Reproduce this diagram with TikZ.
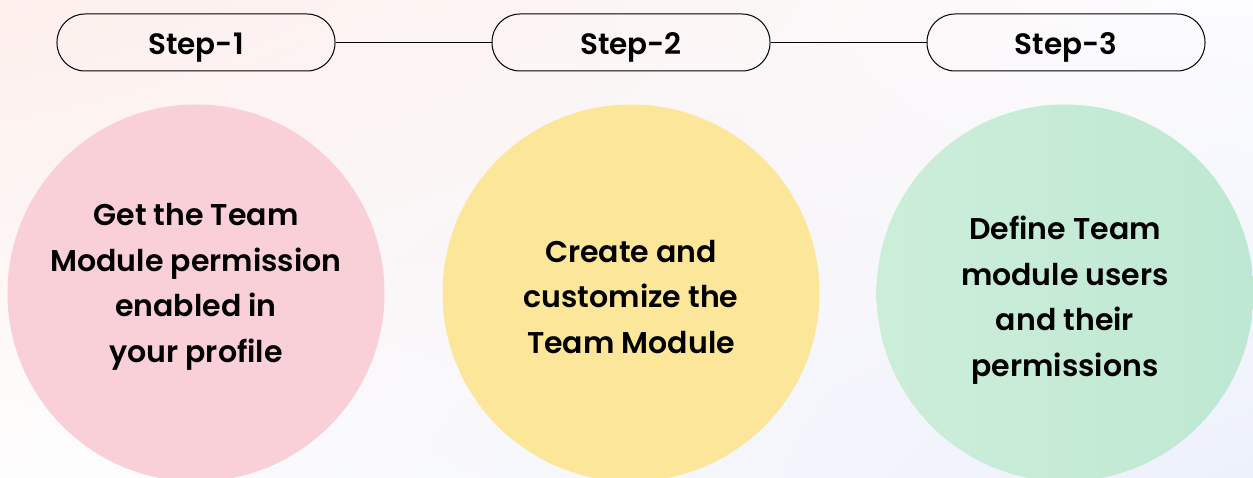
\documentclass[tikz,border=0pt]{standalone}
\usepackage{fontspec}
\setmainfont{Poppins}[BoldFont={Poppins SemiBold}]
\usetikzlibrary{shadings}
\definecolor{bgTL}{HTML}{FDEFEC}
\definecolor{bgTR}{HTML}{FCFCFE}
\definecolor{bgBL}{HTML}{FEFDFD}
\definecolor{bgBR}{HTML}{EDF1FC}
\definecolor{pinkc}{HTML}{F9CFD8}
\definecolor{yellowc}{HTML}{FCE699}
\definecolor{greenL}{HTML}{CCEED9}
\definecolor{greenR}{HTML}{BEE8D3}
\tikzset{
  pill/.style={draw=black, line width=1bp, rounded corners=28bp, minimum width=278bp, minimum height=57bp, inner sep=0pt, text height=25bp, text depth=0bp, font=\fontsize{29.5bp}{34bp}\selectfont\bfseries},
  bubble/.style={circle, minimum size=377bp, inner sep=0pt},
  bubtext/.style={align=center, font=\fontsize{30bp}{45.5bp}\selectfont\bfseries, text=black},
  link/.style={draw=black, line width=1bp}
}
\begin{document}
\begin{tikzpicture}[x=1bp,y=-1bp]
\useasboundingbox (0,0) rectangle (1253,478);
\clip (0,0) rectangle (1253,478);
\shade[upper left=bgTL, upper right=bgTR, lower left=bgBL, lower right=bgBR] (0,0) rectangle (1253,478);
% circles
\node[bubble, fill=pinkc] (c1) at (196,293) {};
\node[bubble, fill=yellowc] (c2) at (631,293) {};
\node[bubble, left color=greenL, right color=greenR] (c3) at (1065,293) {};
\node[bubtext] (t1) at (196,287) {Get the Team\\Module permission\\enabled in\\your profile};
\node[bubtext] (t2) at (631,297) {Create and\\customize the\\Team Module};
\node[bubtext] (t3) at (1065,300) {Define Team\\module users\\and their\\permissions};
% steps
\node[pill] (s1) at (196,42.5) {Step-1};
\node[pill] (s2) at (631,42.5) {Step-2};
\node[pill] (s3) at (1066,42.5) {Step-3};
\draw[link] (s1.east) -- (s2.west);
\draw[link] (s2.east) -- (s3.west);
\end{tikzpicture}
\end{document}
